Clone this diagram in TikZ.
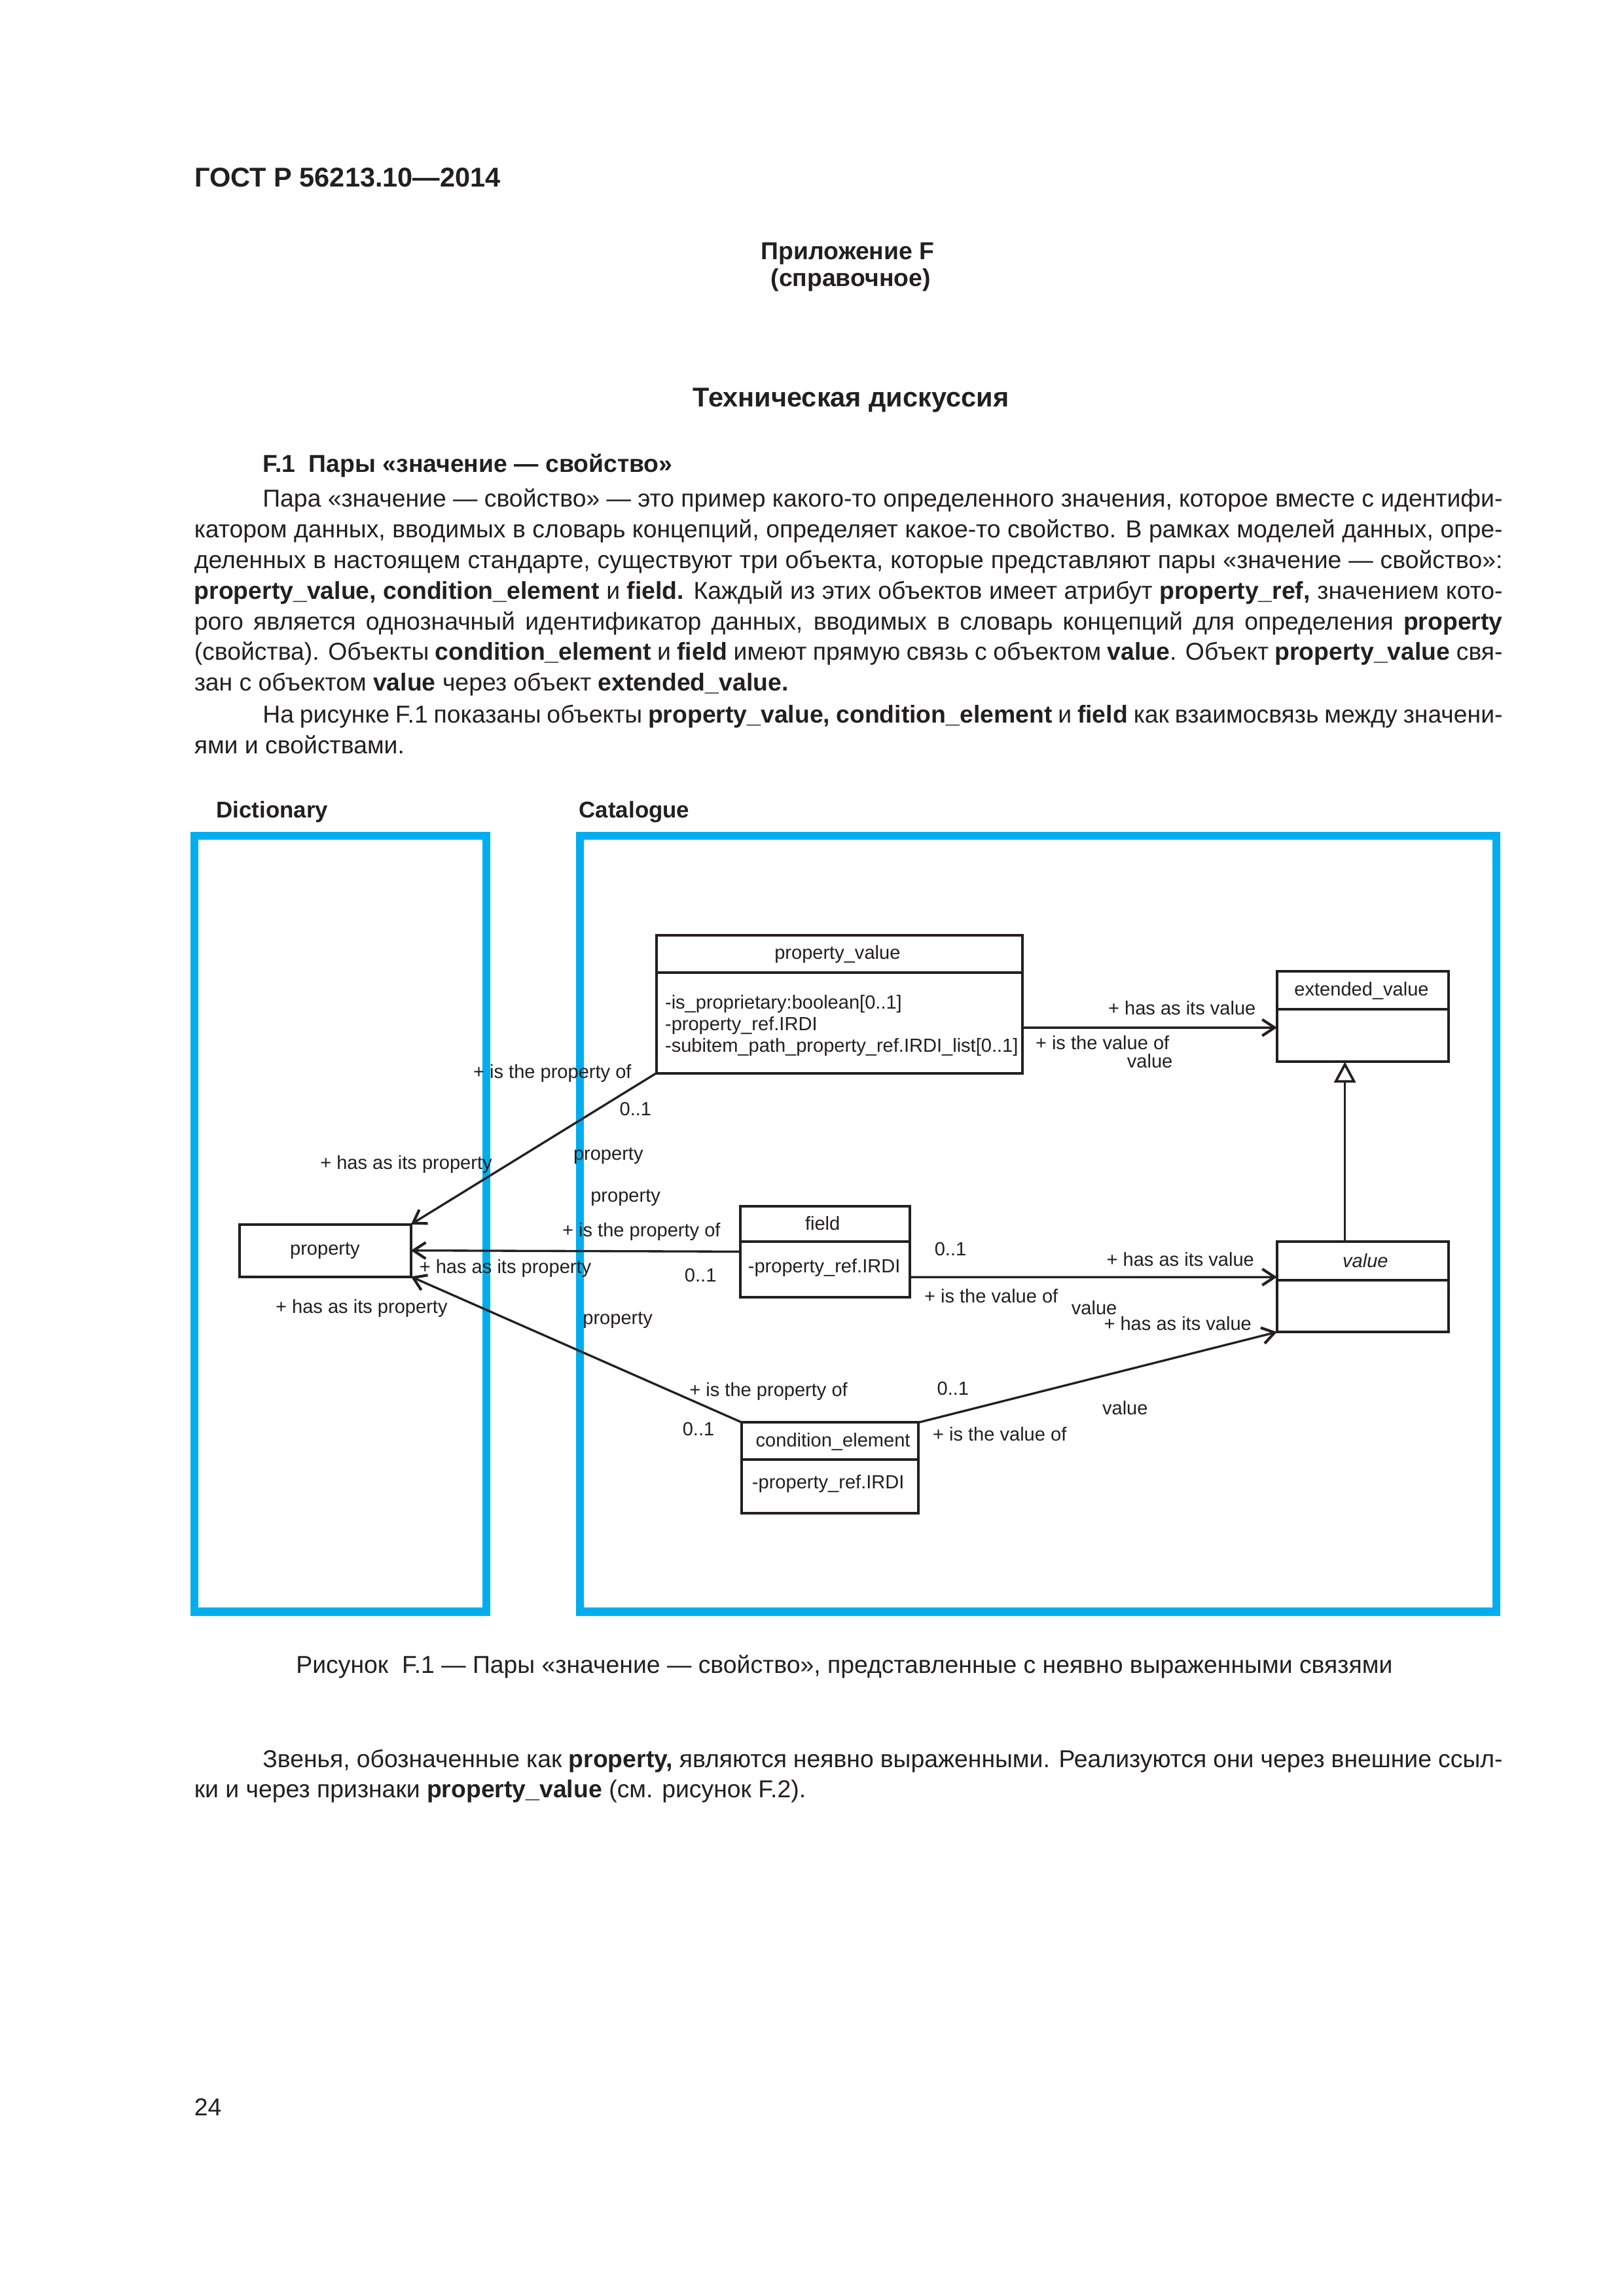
\documentclass[tikz,border=0pt]{standalone}
\usepackage{fontspec}
\setmainfont{Liberation Sans}
\usetikzlibrary{arrows.meta}
\newlength\myu
\setlength\myu{0.19039mm}
\definecolor{frameblue}{RGB}{0,174,239}
\definecolor{ink}{RGB}{35,31,32}
\newcommand\jl[5]{\node[body,anchor=base west] (#1) at (#2,#3) {\makebox[#4\myu][s]{\spaceskip=.278em plus .3em minus .12em #5}};}
\newcommand\lab[4]{\node[lbl] (#1) at (#2,#3) {#4};}
\begin{document}
\begin{tikzpicture}[x=0.19039mm,y=-0.19039mm,
  body/.style={inner sep=0,outer sep=0,font=\fontsize{9}{11}\selectfont,text=ink},
  head/.style={inner sep=0,outer sep=0,font=\fontsize{10}{12}\selectfont\bfseries,text=ink},
  lbl/.style={inner sep=0,outer sep=0,anchor=base west,font=\fontsize{7}{8.4}\selectfont,text=ink},
  ctext/.style={inner sep=0,outer sep=0,anchor=base,font=\fontsize{7}{8.4}\selectfont,text=ink},
  cls/.style={draw=ink,line width=0.95pt,inner sep=0,outer sep=0,anchor=north west},
  div/.style={draw=ink,line width=0.95pt},
  assoc/.style={draw=ink,line width=0.8pt,-{Straight Barb[length=1.6mm,width=2.1mm,line width=1pt]}},
  gen/.style={draw=ink,line width=0.8pt,-{Triangle[length=2.7mm,width=2.8mm,fill=white,line width=0.9pt]}},
  frame/.style={draw=frameblue,line width=2.9pt,inner sep=0,outer sep=0,anchor=north west},
  flabel/.style={inner sep=0,outer sep=0,anchor=base west,font=\fontsize{8.4}{10}\selectfont\bfseries,text=ink}]
\fill[white] (0,0) rectangle (1103,1560.2);
\useasboundingbox (0,0) rectangle (1103,1560.2);

% ---------- page header ----------
\node[head,anchor=base west] (gost) at (132.3,126.8) {ГОСТ Р 56213.10—2014};
\node[body,anchor=base,font=\fontsize{9}{11}\selectfont\bfseries] (app) at (576,176.4) {Приложение F};
\node[body,anchor=base,font=\fontsize{9}{11}\selectfont\bfseries] (appk) at (578,194.5) {(справочное)};
\node[head,anchor=base west] (title) at (470.9,276.5) {Техническая дискуссия};
\node[body,anchor=base west,font=\fontsize{9}{11}\selectfont\bfseries] (sec) at (178.5,321.1) {F.1\ \ Пары «значение — свойство»};

% ---------- body text ----------
\jl{l1}{178.5}{344.5}{842.5}{Пара «значение — свойство» — это пример какого-то определенного значения, которое вместе с идентифи-}
\jl{l2}{132}{365.35}{889}{катором данных, вводимых в словарь концепций, определяет какое-то свойство. В рамках моделей данных, опре-}
\jl{l3}{132}{386.2}{889}{деленных в настоящем стандарте, существуют три объекта, которые представляют пары «значение — свойство»:}
\jl{l4}{132}{407.05}{889}{\textbf{property\_value, condition\_element} и \textbf{field.} Каждый из этих объектов имеет атрибут \textbf{property\_ref,} значением кото-}
\jl{l5}{132}{427.9}{889}{рого является однозначный идентификатор данных, вводимых в словарь концепций для определения \textbf{property}}
\jl{l6}{132}{448.75}{889}{(свойства). Объекты \textbf{condition\_element} и \textbf{field} имеют прямую связь с объектом \textbf{value}. Объект \textbf{property\_value} свя-}
\node[body,anchor=base west] (l7) at (132,469.6) {зан с объектом \textbf{value} через объект \textbf{extended\_value.}};
\jl{l8}{178.5}{491.2}{842.5}{На рисунке F.1 показаны объекты \textbf{property\_value, condition\_element} и \textbf{field} как взаимосвязь между значени-}
\node[body,anchor=base west] (l9) at (132,512) {ями и свойствами.};

% ---------- frames ----------
\node[flabel] (dictlab) at (147.1,555.6) {Dictionary};
\node[flabel] (catlab) at (393.5,555.6) {Catalogue};
\node[frame,minimum width=198.3*\myu,minimum height=527.2*\myu] (dict) at (132,568) {};
\node[frame,minimum width=622.5*\myu,minimum height=527.2*\myu] (cat) at (394.1,568) {};

% ---------- classes ----------
\node[cls,minimum width=248.9*\myu,minimum height=93.7*\myu] (pv) at (446,635.5) {};
\draw[div] ([yshift=-25.4*\myu]pv.north west) -- ([yshift=-25.4*\myu]pv.north east);
\node[ctext] (pvn) at (569,651.7) {property\_value};
\node[lbl] (pva1) at (451.9,685.6) {-is\_proprietary:boolean[0..1]};
\node[lbl] (pva2) at (451.9,700.4) {-property\_ref.IRDI};
\node[lbl] (pva3) at (451.9,714.8) {-subitem\_path\_property\_ref.IRDI\_list[0..1]};

\node[cls,minimum width=116.4*\myu,minimum height=61.3*\myu] (ev) at (867.7,660.2) {};
\draw[div] ([yshift=-25.5*\myu]ev.north west) -- ([yshift=-25.5*\myu]ev.north east);
\node[ctext] (evn) at (925.1,676.8) {extended\_value};

\node[cls,minimum width=116.4*\myu,minimum height=61.2*\myu] (val) at (867.7,843.9) {};
\draw[div] ([yshift=-26.1*\myu]val.north west) -- ([yshift=-26.1*\myu]val.north east);
\node[ctext] (valn) at (927.7,861.2) {\itshape value};

\node[cls,minimum width=115.1*\myu,minimum height=62*\myu] (fld) at (503,819.5) {};
\draw[div] ([yshift=-24.3*\myu]fld.north west) -- ([yshift=-24.3*\myu]fld.north east);
\node[ctext] (fldn) at (558.9,836.1) {field};
\node[lbl] (flda) at (508.3,864.9) {-property\_ref.IRDI};

\node[cls,minimum width=120*\myu,minimum height=61.5*\myu] (ce) at (504.1,966.6) {};
\draw[div] ([yshift=-25.2*\myu]ce.north west) -- ([yshift=-25.2*\myu]ce.north east);
\node[ctext] (cen) at (566,983) {condition\_element};
\node[lbl] (cea) at (511,1011.8) {-property\_ref.IRDI};

\node[cls,minimum width=116.3*\myu,minimum height=35.5*\myu] (prop) at (162.9,832) {};
\node[ctext] (propn) at (220.8,852.7) {property};

% ---------- connectors ----------
\draw[assoc] (pv.south west) -- (prop.north east);
\draw[assoc] (fld.west) -- (prop.east);
\draw[assoc] (ce.north west) -- (prop.south east);
\draw[assoc] ([yshift=-62.8*\myu]pv.north east) -- ([yshift=-38.1*\myu]ev.north west);
\draw[assoc] ([yshift=-48.3*\myu]fld.north east) -- ([yshift=-23.9*\myu]val.north west);
\draw[assoc] (ce.north east) -- (val.south west);
\draw[gen] ([xshift=-12.1*\myu]val.north) -- ([xshift=-12.1*\myu]ev.south);

% ---------- labels ----------
\lab{a1}{321.6}{732.8}{+ is the property of}
\lab{a2}{421.0}{757.9}{0..1}
\lab{a3}{217.6}{794.4}{+ has as its property}
\lab{a4}{389.6}{788.2}{property}
\lab{a5}{401.3}{816.9}{property}
\lab{a6}{382.1}{840.5}{+ is the property of}
\lab{a7}{285.0}{865.2}{+ has as its property}
\lab{a8}{465.2}{871.1}{0..1}
\lab{a9}{187.3}{892.5}{+ has as its property}
\lab{a10}{396.0}{899.9}{property}
\lab{a11}{468.5}{948.7}{+ is the property of}
\lab{a12}{463.8}{975.5}{0..1}
\lab{a13}{636.7}{947.9}{0..1}
\lab{a14}{749.0}{961.5}{value}
\lab{a15}{633.8}{979.2}{+ is the value of}
\lab{a16}{635.0}{853.1}{0..1}
\lab{a17}{751.9}{860.5}{+ has as its value}
\lab{a18}{628.0}{885.2}{+ is the value of}
\lab{a19}{728.0}{893.3}{value}
\lab{a20}{750.1}{904.0}{+ has as its value}
\lab{a21}{753.0}{689.7}{+ has as its value}
\lab{a22}{703.6}{713.3}{+ is the value of}
\lab{a23}{765.8}{725.5}{value}

% ---------- after the figure ----------
\node[body,anchor=base] (cap) at (573.7,1137.1) {Рисунок\ \ F.1 — Пары «значение — свойство», представленные с неявно выраженными связями};
\jl{p1}{178.5}{1200.9}{842.5}{Звенья, обозначенные как \textbf{property,} являются неявно выраженными. Реализуются они через внешние ссыл-}
\node[body,anchor=base west] (p2) at (132,1221.3) {ки и через признаки \textbf{property\_value} (см. рисунок F.2).};
\node[body,anchor=base west] (pg) at (132,1437.5) {24};
\end{tikzpicture}
\end{document}
